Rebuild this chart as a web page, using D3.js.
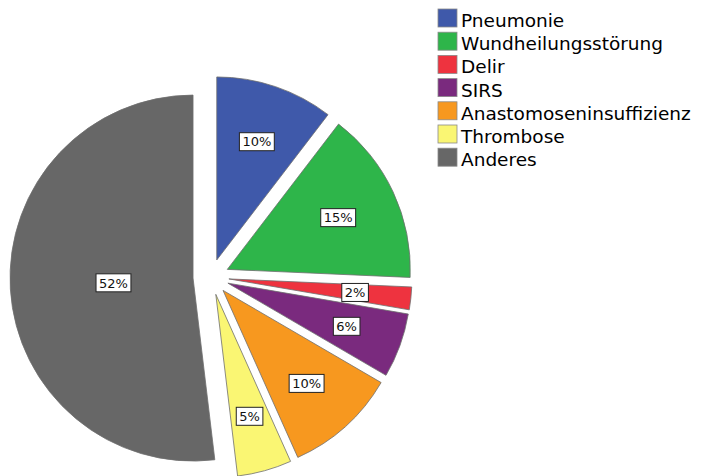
<!DOCTYPE html>
<html>
<head>
<meta charset="utf-8">
<script src="https://cdnjs.cloudflare.com/ajax/libs/d3/7.8.5/d3.min.js"></script>
<style>
	body { margin: 0; background: #fff; }
	svg { display: block; }
	.legend text { font-family: "DejaVu Sans", Verdana, sans-serif; font-size: 18.5px; fill: #000; }
	.lbl text { font-family: "DejaVu Sans", Verdana, sans-serif; font-size: 13px; fill: #111; }
</style>
</head>
<body>
<div id="svg_container"></div>
<script>
/* -----------------------
data
------------------------- */

var categories = ['Pneumonie', 'Wundheilungsstörung', 'Delir', 'SIRS', 'Anastomoseninsuffizienz', 'Thrombose', 'Anderes'];
var shares = [10.4, 15.3, 2.0, 5.7, 9.9, 4.8, 51.9];
var colors = ['#3f59aa', '#2eb54a', '#ee333f', '#7a2a7e', '#f7981f', '#faf673', '#676767'];

/* -----------------------
main variables
------------------------- */

var width = 701;
var height = 476;

var cx = 211, cy = 277;
var radius = 183;
var explode = 18;

var svg = d3.select("#svg_container")
	.append("svg")
	.attr("width", width)
	.attr("height", height);

var data = categories.map(function (c, i) {
	return {name: c, value: shares[i], color: colors[i]};
});

var pie = d3.pie()
	.sort(null)
	.value(function (d) { return d.value; });

var arc = d3.arc()
	.innerRadius(0)
	.outerRadius(radius);

var total = d3.sum(shares);
var fmt = d3.format(".0%");

var plot = svg.append("g")
	.attr("transform", "translate(" + cx + "," + cy + ")");

var slice = plot.selectAll(".slice")
	.data(pie(data))
	.enter()
	.append("g")
	.attr("class", "slice")
	.attr("transform", function (d) {
		var mid = (d.startAngle + d.endAngle) / 2;
		return "translate(" + (Math.sin(mid) * explode) + "," + (-Math.cos(mid) * explode) + ")";
	});

slice.append("path")
	.attr("d", arc)
	.attr("fill", function (d) { return d.data.color; })
	.attr("stroke", "#6e6e6e")
	.attr("stroke-width", 0.8);

/* --- labels at sector centroid --- */

var lbl = slice.append("g")
	.attr("class", "lbl")
	.attr("transform", function (d) {
		var mid = (d.startAngle + d.endAngle) / 2;
		var a = (d.endAngle - d.startAngle) / 2;
		var dist = 2 * radius * Math.sin(a) / (3 * a) + 5;
		return "translate(" + (Math.sin(mid) * dist) + "," + (-Math.cos(mid) * dist) + ")";
	});

lbl.append("rect")
	.attr("fill", "#fff")
	.attr("stroke", "#222")
	.attr("stroke-width", 1);

var txt = lbl.append("text")
	.attr("text-anchor", "middle")
	.attr("dy", "0.36em")
	.text(function (d) { return fmt(d.data.value / total); });

txt.each(function (d) {
	var w = this.getComputedTextLength();
	d3.select(this.parentNode).select("rect")
		.attr("x", -w / 2 - 3)
		.attr("y", -9)
		.attr("width", w + 6)
		.attr("height", 18);
});

/* -----------------------
legend
------------------------- */

var legend = svg.append("g")
	.attr("class", "legend")
	.attr("transform", "translate(438,9)");

var row = legend.selectAll(".row")
	.data(data)
	.enter()
	.append("g")
	.attr("class", "row")
	.attr("transform", function (d, i) { return "translate(0," + (i * 23.2) + ")"; });

row.append("rect")
	.attr("width", 19)
	.attr("height", 18)
	.attr("fill", function (d) { return d.color; })
	.attr("stroke", "#8a8a8a")
	.attr("stroke-width", 0.8);

row.append("text")
	.attr("x", 23)
	.attr("y", 18)
	.text(function (d) { return d.name; });
</script>
</body>
</html>
